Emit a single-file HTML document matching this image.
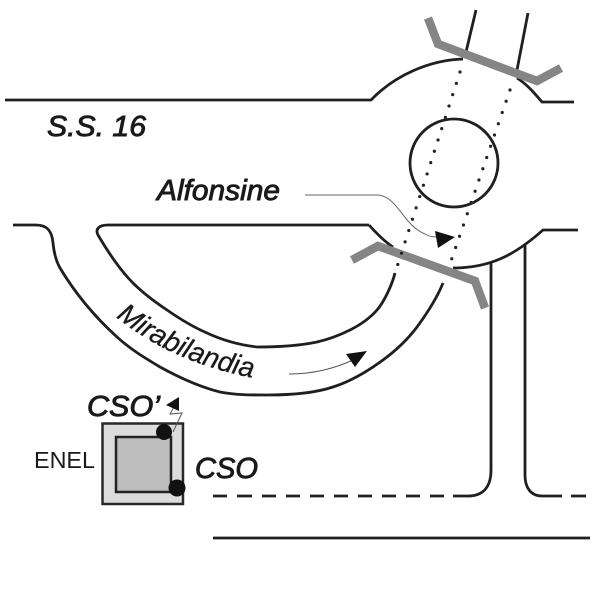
<!DOCTYPE html>
<html><head><meta charset="utf-8"><style>
html,body{margin:0;padding:0;background:#fff;width:600px;height:600px;overflow:hidden}
svg{display:block}
text{font-family:"Liberation Sans",sans-serif;fill:#1a1a1a}
.m{font-style:italic;font-size:29px;stroke:#1a1a1a;stroke-width:.9px}
</style></head><body>
<svg width="600" height="600" viewBox="0 0 600 600" xmlns="http://www.w3.org/2000/svg">
<rect width="600" height="600" fill="#fff"/>
<g fill="none" stroke="#1f1f1f" stroke-width="2.8">
<path d="M5 100H371C395 75 430 60 463 59"/>
<path d="M517 78C528 85 535 94 542 102H574"/>
<path d="M13 225H36C48 225 52 232 53 243C54 253 56 261 60 268C75 293 95 317 117 337C130 349 145 358 160 367C180 378 200 387 220 392C235 395 250 395 267 395C292 395 315 393 333 387C352 381 368 371 383 360C398 349 408 339 417 327C428 312 437 298 443 283"/>
<path d="M369 225H108C99 225 95 229 98 235C108 252 120 270 133 283C143 293 155 302 167 310C180 319 193 327 207 333C222 340 240 345 257 347C278 347 298 346 317 342C330 339 340 335 350 330C360 325 370 318 377 310C384 302 392 285 395 273"/>
<path d="M369 225C378 235 385 242 393 247"/>
<path d="M453 268C490 268 515 255 543 230H578"/>
<path d="M491 263V470C491 488 482 496 468 496H453"/>
<path d="M525 245V475C525 488 531 496 542 496H547"/>
<path d="M213 496H227M237 496H252M262 496H276M286 496H300M310 496H324M334 496H348M358 496H372M382 496H396M406 496H420M430 496H444"/>
<path d="M547 496H562M571 496H586"/>
<path d="M213 538H590"/>
<path d="M476 10L466 52M528 13L517 70"/>
<circle cx="454" cy="163" r="44"/>
</g>
<g fill="none" stroke="#858585" stroke-width="8.500">
<path d="M428 18L438 44L537 81L561 68"/>
<path d="M352 260L378 246L475 281L485 308"/>
</g>
<path d="M460 72L397 267M510 90L451 261" fill="none" stroke="#222" stroke-width="3.200" stroke-linecap="round" stroke-dasharray="0 11.9"/>
<path d="M305 195H378C398 197 403 225 425 234C430 237 434 237 440 237" fill="none" stroke="#666" stroke-width="1"/>
<path d="M455 237L435 231L438 248Z" fill="#111"/>
<path d="M289 374C315 374 335 368 353 360" fill="none" stroke="#555" stroke-width="1"/>
<path d="M367 351L346 354L355 367Z" fill="#111"/>
<rect x="102.500" y="423.500" width="80.500" height="80.500" fill="#dcdcdc" stroke="#2a2a2a" stroke-width="2.500"/>
<rect x="116" y="437" width="55" height="55" fill="#bdbdbd" stroke="#222" stroke-width="2.500"/>
<circle cx="164" cy="432" r="8" fill="#111"/>
<circle cx="177" cy="488" r="8.500" fill="#111"/>
<path d="M173 432L182 413L170 414L175 405" fill="none" stroke="#555" stroke-width="1"/>
<path d="M179 397L166 405L179 411Z" fill="#111"/>
<text class="m" x="47" y="136" textLength="99" lengthAdjust="spacingAndGlyphs">S.S. 16</text>
<text class="m" x="157" y="200" textLength="123" lengthAdjust="spacingAndGlyphs">Alfonsine</text>
<text class="m" x="87" y="416" textLength="73" lengthAdjust="spacingAndGlyphs">CSO’</text>
<text class="m" x="195" y="478" textLength="63" lengthAdjust="spacingAndGlyphs">CSO</text>
<text x="34" y="468" font-size="23" textLength="61" lengthAdjust="spacingAndGlyphs">ENEL</text>
<path id="mp" d="M116 317C150 345 200 370 266 380" fill="none" stroke="none"/>
<text font-size="28" font-style="italic" stroke="#1a1a1a" stroke-width=".3" textLength="151"><textPath href="#mp">Mirabilandia</textPath></text>
</svg>
</body></html>
